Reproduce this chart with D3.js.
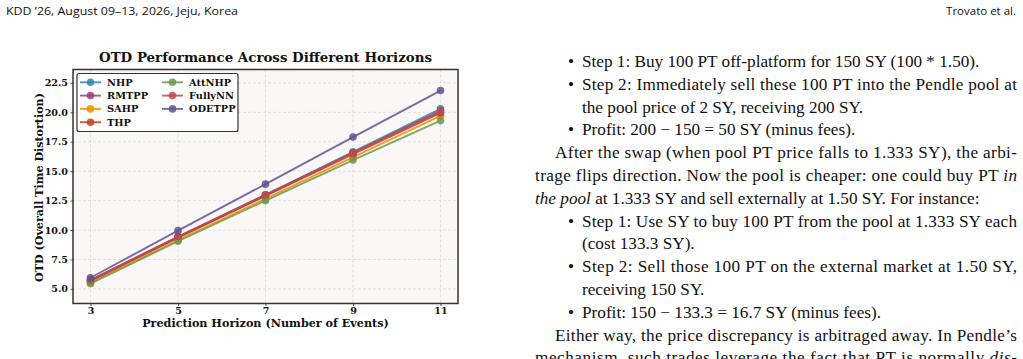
<!DOCTYPE html>
<html><head><meta charset="utf-8">
<script src="https://cdn.jsdelivr.net/npm/d3@7"></script>
<style>body{margin:0;background:#fff} svg{display:block}</style>
</head><body>
<svg id="c" width="1023" height="359"></svg>
<script>
// ---------- data ----------
const horizons = [3, 5, 7, 9, 11];
const seriesNames = ["NHP", "RMTPP", "SAHP", "THP", "AttNHP", "FullyNN", "ODETPP"];
const seriesColors = ["#2E86AB", "#A23B72", "#F18F01", "#C73E1D", "#6A994E", "#BC4B51", "#5E548E"];
const NHP     = [5.75, 9.40, 13.00, 16.65, 20.30];
const RMTPP   = [5.70, 9.40, 12.95, 16.55, 20.15];
const SAHP    = [5.50, 9.15, 12.65, 16.20, 19.70];
const THP     = [5.65, 9.35, 12.90, 16.45, 19.95];
const AttNHP  = [5.45, 9.05, 12.50, 15.95, 19.30];
const FullyNN = [5.75, 9.45, 13.00, 16.55, 20.05];
const ODETPP  = [5.95, 9.95, 13.90, 17.90, 21.85];
const yTicks = [5.0, 7.5, 10.0, 12.5, 15.0, 17.5, 20.0, 22.5];
const xTicks = [3, 5, 7, 9, 11];
const seriesValues = [NHP, RMTPP, SAHP, THP, AttNHP, FullyNN, ODETPP];

const svg = d3.select("#c");
svg.append("rect").attr("width", 1023).attr("height", 359).attr("fill", "#fff");

// ---------- page header ----------
const sans = "'Open Sans', 'Noto Sans', sans-serif";
svg.append("text").attr("x", 6).attr("y", 15).attr("font-family", sans).attr("font-size", 11.5)
  .attr("fill", "#111").attr("textLength", 232).attr("lengthAdjust", "spacingAndGlyphs")
  .text("KDD \u201926, August 09\u201313, 2026, Jeju, Korea");
svg.append("text").attr("x", 1016).attr("y", 15).attr("font-family", sans).attr("font-size", 11.5)
  .attr("fill", "#111").attr("text-anchor", "end").text("Trovato et al.");

// ---------- chart ----------
const serif = "'DejaVu Serif', serif";
const L = 73, R = 458, T = 69.5, B = 303.5;
const x = d3.scaleLinear().domain([2.6, 11.4]).range([L, R]);
const y = d3.scaleLinear().domain([3.76, 23.64]).range([B, T]);

svg.append("rect").attr("x", L).attr("y", T).attr("width", R - L).attr("height", B - T).attr("fill", "#fcf7f7");

// grid
const g = svg.append("g");
g.selectAll(".gx").data(xTicks).join("line")
  .attr("x1", d => x(d)).attr("x2", d => x(d)).attr("y1", T).attr("y2", B)
  .attr("stroke", "#c8c8c8").attr("stroke-width", 0.8).attr("stroke-dasharray", "3,2").attr("opacity", 0.6);
g.selectAll(".gy").data(yTicks).join("line")
  .attr("y1", d => y(d)).attr("y2", d => y(d)).attr("x1", L).attr("x2", R)
  .attr("stroke", "#c8c8c8").attr("stroke-width", 0.8).attr("stroke-dasharray", "3,2").attr("opacity", 0.6);

// axes
const xAxis = d3.axisBottom(x).tickValues(xTicks).tickSize(2.5).tickPadding(1).tickFormat(d3.format("d"));
const yAxis = d3.axisLeft(y).tickValues(yTicks).tickSize(2.5).tickPadding(2.5).tickFormat(d3.format(".1f"));
const gx = svg.append("g").attr("transform", `translate(0,${B})`).call(xAxis);
const gy = svg.append("g").attr("transform", `translate(${L},0)`).call(yAxis);
[gx, gy].forEach(a => {
  a.select(".domain").remove();
  a.selectAll(".tick line").attr("stroke", "#333").attr("stroke-width", 0.9);
  a.selectAll(".tick text").attr("font-family", serif).attr("font-weight", "bold")
    .attr("font-size", 9.6).attr("fill", "#111");
});

// lines
const line = d3.line().x((d, i) => x(horizons[i])).y(d => y(d));
seriesValues.forEach((vals, si) => {
  const c = seriesColors[si];
  svg.append("path").attr("d", line(vals)).attr("fill", "none").attr("stroke", c)
    .attr("stroke-width", 1.9).attr("opacity", 0.85);
  svg.append("g").selectAll("circle").data(vals).join("circle")
    .attr("cx", (d, i) => x(horizons[i])).attr("cy", d => y(d)).attr("r", 3.8)
    .attr("fill", c).attr("opacity", 0.85);
});

// frame
svg.append("rect").attr("x", L).attr("y", T).attr("width", R - L).attr("height", B - T)
  .attr("fill", "none").attr("stroke", "#333").attr("stroke-width", 1.5);

// title and labels
svg.append("text").attr("x", (L + R) / 2).attr("y", 62).attr("text-anchor", "middle")
  .attr("font-family", serif).attr("font-weight", "bold").attr("font-size", 13.4).attr("fill", "#111")
  .text("OTD Performance Across Different Horizons");
svg.append("text").attr("x", (L + R) / 2).attr("y", 326.5).attr("text-anchor", "middle")
  .attr("font-family", serif).attr("font-weight", "bold").attr("font-size", 11.2).attr("fill", "#111")
  .text("Prediction Horizon (Number of Events)");
svg.append("text").attr("transform", `translate(43,${(T + B) / 2 + 1}) rotate(-90)`).attr("text-anchor", "middle")
  .attr("font-family", serif).attr("font-weight", "bold").attr("font-size", 11.1).attr("fill", "#111")
  .text("OTD (Overall Time Distortion)");

// legend
const lg = svg.append("g");
lg.append("rect").attr("x", 77).attr("y", 73.5).attr("width", 161).attr("height", 58).attr("rx", 2)
  .attr("fill", "#fff").attr("fill-opacity", 0.9).attr("stroke", "#333").attr("stroke-width", 1.2);
seriesNames.forEach((name, i) => {
  const col = i < 4 ? 0 : 1, row = i < 4 ? i : i - 4;
  const lx = 80 + col * 82, ly = 82.3 + row * 13.3;
  const c = seriesColors[i];
  lg.append("line").attr("x1", lx).attr("x2", lx + 21).attr("y1", ly).attr("y2", ly)
    .attr("stroke", c).attr("stroke-width", 1.9).attr("opacity", 0.85);
  lg.append("circle").attr("cx", lx + 10.5).attr("cy", ly).attr("r", 3.8).attr("fill", c).attr("opacity", 0.85);
  lg.append("text").attr("x", lx + 27).attr("y", ly + 3.5).attr("font-family", serif).attr("font-weight", "bold")
    .attr("font-size", 9.8).attr("fill", "#111").text(name);
});

// ---------- right-hand text column ----------
const body = "'Liberation Serif', 'Times New Roman', serif";
const fs = 17.2;
const colL = 535, colR = 1017, paraInd = 555, bulletX = 568, bulletTxt = 582;
const pitch = 22.8, base0 = 67;
// [kind, segments, justify]
const textLines = [
  ["b", [["Step 1: Buy 100 PT off-platform for 150 SY (100 * 1.50).", 0]], false],
  ["b", [["Step 2: Immediately sell these 100 PT into the Pendle pool at", 0]], true],
  ["c", [["the pool price of 2 SY, receiving 200 SY.", 0]], false],
  ["b", [["Profit: 200 \u2212 150 = 50 SY (minus fees).", 0]], false],
  ["p", [["After the swap (when pool PT price falls to 1.333 SY), the arbi-", 0]], true],
  ["l", [["trage flips direction. Now the pool is cheaper: one could buy PT ", 0], ["in", 1]], true],
  ["l", [["the pool", 1], [" at 1.333 SY and sell externally at 1.50 SY. For instance:", 0]], false],
  ["b", [["Step 1: Use SY to buy 100 PT from the pool at 1.333 SY each", 0]], true],
  ["c", [["(cost 133.3 SY).", 0]], false],
  ["b", [["Step 2: Sell those 100 PT on the external market at 1.50 SY,", 0]], true],
  ["c", [["receiving 150 SY.", 0]], false],
  ["b", [["Profit: 150 \u2212 133.3 = 16.7 SY (minus fees).", 0]], false],
  ["p", [["Either way, the price discrepancy is arbitraged away. In Pendle\u2019s", 0]], true],
  ["l", [["mechanism, such trades leverage the fact that PT is normally ", 0], ["dis-", 1]], true]
];
textLines.forEach((ln, i) => {
  const [kind, segs, just] = ln;
  const yy = base0 + i * pitch;
  let sx = kind === "b" || kind === "c" ? bulletTxt : kind === "p" ? paraInd : colL;
  if (kind === "b") {
    svg.append("text").attr("x", bulletX).attr("y", yy).attr("font-family", body).attr("font-size", fs)
      .attr("fill", "#111").text("\u2022");
  }
  const t = svg.append("text").attr("x", sx).attr("y", yy).attr("font-family", body).attr("font-size", fs)
    .attr("fill", "#111");
  segs.forEach(([s, it]) => t.append("tspan").attr("font-style", it ? "italic" : "normal").text(s));
  if (just) t.attr("textLength", colR - sx).attr("lengthAdjust", "spacing");
});
</script>
</body></html>
